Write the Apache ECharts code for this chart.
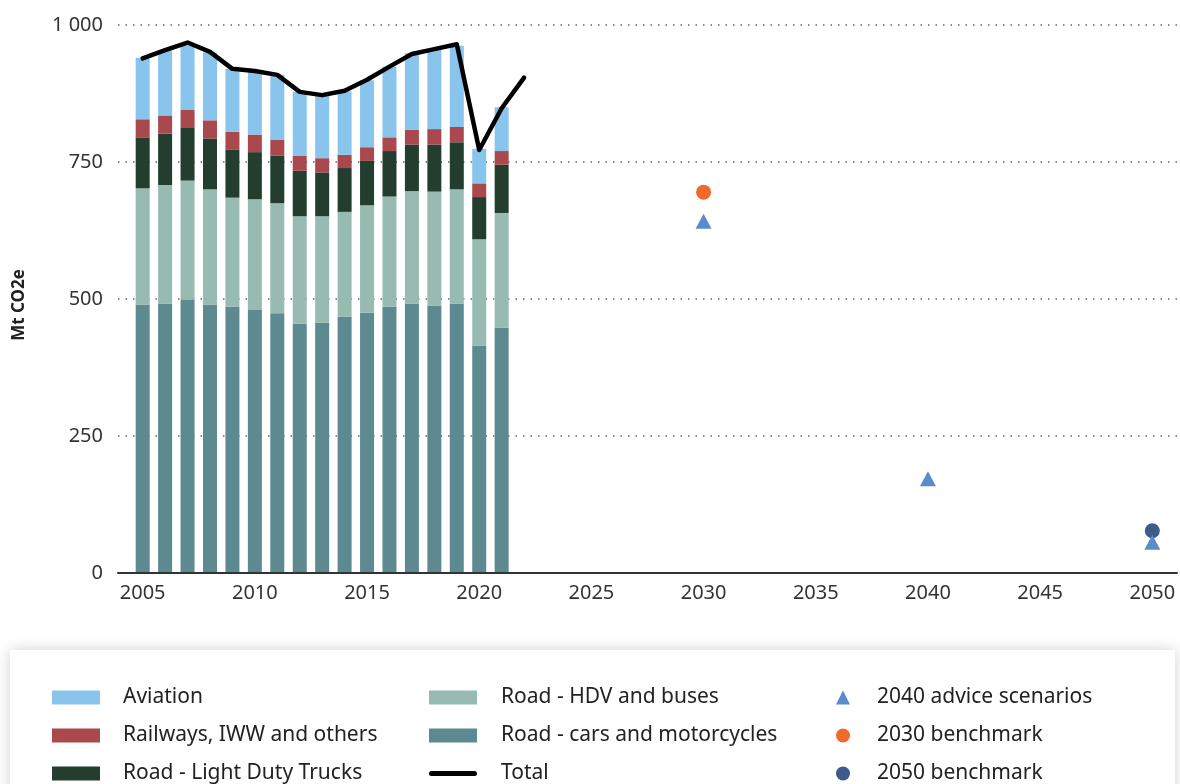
<!DOCTYPE html>
<html>
<head>
<meta charset="utf-8">
<script src="https://cdn.jsdelivr.net/npm/echarts@6/dist/echarts.min.js"></script>
<style>
  html, body { margin: 0; padding: 0; background: #fff; }
  #chart { width: 1180px; height: 784px; }
</style>
</head>
<body>
<div id="chart"></div>
<script>
// historic emissions, Mt CO2e
const years = [2005, 2006, 2007, 2008, 2009, 2010, 2011, 2012, 2013, 2014, 2015, 2016, 2017, 2018, 2019, 2020, 2021];
const cars = [490, 492, 498, 490, 486, 480, 474, 455, 457, 468, 475, 486, 492, 488, 492, 415, 448];
const hdv = [212, 216, 218, 210, 199, 202, 201, 196, 194, 191, 196, 201, 205, 208, 208, 194, 209];
const ldt = [92, 94, 96, 93, 88, 86, 87, 83, 80, 80, 81, 83, 85, 86, 86, 77, 88];
const rail = [34, 33, 33, 33, 32, 32, 29, 27, 26, 24, 25, 25, 27, 28, 28, 25, 25];
const aviation = [112, 118, 118, 124, 115, 115, 118, 117, 116, 116, 122, 129, 140, 145, 148, 63, 80];

const totalYears = [2005, 2006, 2007, 2008, 2009, 2010, 2011, 2012, 2013, 2014, 2015, 2016, 2017, 2018, 2019, 2020, 2021, 2022];
const total = [939, 954, 968, 951, 920, 916, 909, 878, 872, 880, 900, 924, 947, 956, 965, 772, 848, 904];

const adviceYears = [2030, 2040, 2050];
const advice = [642, 172, 56];
const bench2030 = [[2030, 695]];
const bench2050 = [[2050, 77]];

const xTicks = [2005, 2010, 2015, 2020, 2025, 2030, 2035, 2040, 2045, 2050];

const pairs = (xs, ys) => xs.map((x, i) => [x, ys[i]]);
const font = "'Noto Sans', 'Open Sans', sans-serif";

// all years shown on the axis, one band each, for the stacked bars
const allYears = [];
for (let y = 2005; y <= 2050; y++) allYears.push(String(y));

const xMin = 2003.9, xMax = 2051.1;
const plotLeft = 118, plotRight = 3;
const pxPerYear = (1180 - plotLeft - plotRight) / (xMax - xMin);
const barLeft = plotLeft + (2004.5 - xMin) * pxPerYear;
const barRight = plotRight + (xMax - 2050.5) * pxPerYear;

function barSeries(name, values, color) {
  return {
    name: name,
    type: "bar",
    stack: "sectors",
    xAxisIndex: 1,
    yAxisIndex: 1,
    barWidth: 14,
    data: values,
    itemStyle: { color: color },
    emphasis: { disabled: true },
  };
}

const legendText = { color: "#222", fontSize: 21, fontFamily: font, lineHeight: 20, padding: [0, 0, 0, 18] };
const legendBase = {
  orient: "vertical",
  top: 687,
  padding: 0,
  itemWidth: 48,
  itemHeight: 14,
  itemGap: 17,
  selectedMode: false,
  textStyle: legendText,
};

const chart = echarts.init(document.getElementById("chart"));
chart.setOption({
  animation: false,
  textStyle: { fontFamily: font },
  graphic: [{
    type: "rect",
    z: 0,
    shape: { x: 10, y: 650, width: 1165, height: 160 },
    style: { fill: "#fff", shadowBlur: 14, shadowColor: "rgba(0,0,0,0.18)" },
  }],
  grid: [
    { left: plotLeft, right: plotRight, top: 25, bottom: 211 },
    { left: barLeft, right: barRight, top: 25, bottom: 211 },
  ],
  xAxis: [{
    type: "value",
    min: xMin,
    max: xMax,
    axisLine: { show: true, onZero: false, lineStyle: { color: "#333", width: 2 } },
    axisTick: { show: false },
    splitLine: { show: false },
    z: 3,
    axisLabel: {
      customValues: xTicks,
      color: "#333",
      fontSize: 20,
      margin: 10,
      formatter: (v) => String(v),
    },
  }, {
    type: "category",
    gridIndex: 1,
    data: allYears,
    show: false,
  }],
  yAxis: [{
    type: "value",
    min: 0,
    max: 1000,
    interval: 250,
    name: "Mt CO2e",
    nameLocation: "middle",
    nameRotate: 90,
    nameGap: 90,
    nameTextStyle: { color: "#222", fontSize: 17, fontWeight: "bold", padding: [0, 0, 0, -12] },
    axisLine: { show: false },
    axisTick: { show: false },
    axisLabel: {
      color: "#333",
      fontSize: 20,
      margin: 15,
      formatter: (v) => (v >= 1000 ? "1 000" : String(v)),
    },
    splitLine: { lineStyle: { color: "#666", width: 1.5, type: [1.5, 6] } },
  }, {
    type: "value",
    gridIndex: 1,
    min: 0,
    max: 1000,
    show: false,
    splitLine: { show: false },
  }],
  legend: [
    Object.assign({}, legendBase, {
      left: 52, icon: "rect",
      data: ["Aviation", "Railways, IWW and others", "Road - Light Duty Trucks"],
    }),
    Object.assign({}, legendBase, {
      left: 429,
      textStyle: Object.assign({}, legendText, { padding: [0, 0, 0, 19] }),
      data: [
        { name: "Road - HDV and buses", icon: "rect" },
        { name: "Road - cars and motorcycles", icon: "rect" },
        { name: "Total", icon: "path://M2.5,0 h43 a2.5,2.5 0 0 1 0,5 h-43 a2.5,2.5 0 0 1 0,-5 z" },
      ],
    }),
    Object.assign({}, legendBase, {
      left: 836,
      itemWidth: 14,
      textStyle: Object.assign({}, legendText, { padding: [0, 0, 0, 22] }),
      data: [
        { name: "2040 advice scenarios", icon: "triangle" },
        { name: "2030 benchmark", icon: "circle" },
        { name: "2050 benchmark", icon: "circle" },
      ],
    }),
  ],
  series: [
    barSeries("Road - cars and motorcycles", cars, "#5d8990"),
    barSeries("Road - HDV and buses", hdv, "#97bbb0"),
    barSeries("Road - Light Duty Trucks", ldt, "#233e2e"),
    barSeries("Railways, IWW and others", rail, "#a9494d"),
    barSeries("Aviation", aviation, "#89c4ed"),
    {
      name: "Total",
      type: "line",
      symbol: "none",
      z: 5,
      data: pairs(totalYears, total),
      lineStyle: { color: "#000", width: 4.5, join: "round", cap: "round" },
      itemStyle: { color: "#000" },
    },
    {
      name: "2030 benchmark",
      type: "scatter",
      symbol: "circle",
      symbolSize: 15,
      z: 4,
      data: bench2030,
      itemStyle: { color: "#ef6a2c", opacity: 1 },
    },
    {
      name: "2050 benchmark",
      type: "scatter",
      symbol: "circle",
      symbolSize: 15,
      z: 4,
      data: bench2050,
      itemStyle: { color: "#3d5a8b", opacity: 1 },
    },
    {
      name: "2040 advice scenarios",
      type: "scatter",
      symbol: "triangle",
      symbolSize: [16, 15],
      z: 6,
      data: pairs(adviceYears, advice),
      itemStyle: { color: "#5a8bcc", opacity: 1 },
    },
  ],
});
</script>
</body>
</html>
